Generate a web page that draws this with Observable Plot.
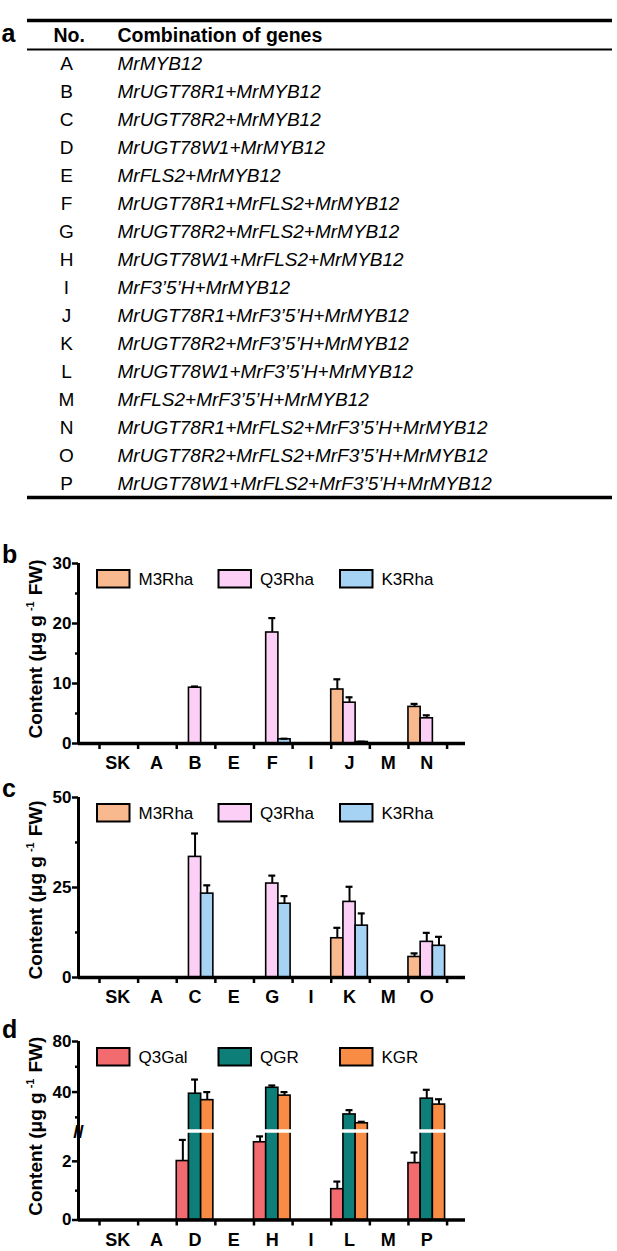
<!DOCTYPE html>
<html><head><meta charset="utf-8">
<script src="https://cdn.jsdelivr.net/npm/d3@7"></script>
<script src="https://cdn.jsdelivr.net/npm/@observablehq/plot@0.6"></script>
<style>
html,body{margin:0;padding:0;background:#fff;}
#root{width:617px;}
#root svg{display:block;}
</style></head><body><div id="root"></div>
<script>
// ---------- data ----------
const nos = ["A","B","C","D","E","F","G","H","I","J","K","L","M","N","O","P"];
const combos = [
  "MrMYB12",
  "MrUGT78R1+MrMYB12",
  "MrUGT78R2+MrMYB12",
  "MrUGT78W1+MrMYB12",
  "MrFLS2+MrMYB12",
  "MrUGT78R1+MrFLS2+MrMYB12",
  "MrUGT78R2+MrFLS2+MrMYB12",
  "MrUGT78W1+MrFLS2+MrMYB12",
  "MrF3\u20195\u2019H+MrMYB12",
  "MrUGT78R1+MrF3\u20195\u2019H+MrMYB12",
  "MrUGT78R2+MrF3\u20195\u2019H+MrMYB12",
  "MrUGT78W1+MrF3\u20195\u2019H+MrMYB12",
  "MrFLS2+MrF3\u20195\u2019H+MrMYB12",
  "MrUGT78R1+MrFLS2+MrF3\u20195\u2019H+MrMYB12",
  "MrUGT78R2+MrFLS2+MrF3\u20195\u2019H+MrMYB12",
  "MrUGT78W1+MrFLS2+MrF3\u20195\u2019H+MrMYB12"
];

const seriesRha = ["M3Rha","Q3Rha","K3Rha"];
const colorsRha = ["#F9B98E","#FCCFF6","#A6D2F4"];
const seriesGal = ["Q3Gal","QGR","KGR"];
const colorsGal = ["#F26B6E","#0E7E78","#F98C45"];

// panel b
const catsB = ["SK","A","B","E","F","I","J","M","N"];
const bM3Rha    = [null,null,null,null,null,null,9.0,null,6.1];
const bM3RhaErr = [0,0,0,0,0,0,1.7,0,0.5];
const bQ3Rha    = [null,null,9.3,null,18.5,null,6.8,null,4.2];
const bQ3RhaErr = [0,0,0.2,0,2.4,0,0.9,0,0.5];
const bK3Rha    = [null,null,null,null,0.7,null,0.25,null,null];
const bK3RhaErr = [0,0,0,0,0.1,0,0.05,0,0];
const ticksB = [0,10,20,30], minorB = [5,15,25];

// panel c
const catsC = ["SK","A","C","E","G","I","K","M","O"];
const cM3Rha    = [null,null,null,null,null,null,10.9,null,5.7];
const cM3RhaErr = [0,0,0,0,0,0,2.9,0,1.0];
const cQ3Rha    = [null,null,33.5,null,26.1,null,21.0,null,9.9];
const cQ3RhaErr = [0,0,6.5,0,2.2,0,4.2,0,2.5];
const cK3Rha    = [null,null,23.3,null,20.5,null,14.4,null,8.8];
const cK3RhaErr = [0,0,2.3,0,2.1,0,3.4,0,2.5];
const ticksC = [0,25,50], minorC = [12.5,37.5];

// panel d (broken axis)
const catsD = ["SK","A","D","E","H","I","L","M","P"];
const dQ3Gal    = [null,null,2.01,null,2.65,null,1.05,null,1.94];
const dQ3GalErr = [0,0,0.72,0,0.2,0,0.26,0,0.36];
const dQGR      = [null,null,38.7,null,43.4,null,22.3,null,34.8];
const dQGRErr   = [0,0,11.2,0,1.8,0,3.4,0,7.0];
const dKGR      = [null,null,33.6,null,37.2,null,15.3,null,30.1];
const dKGRErr   = [0,0,6.4,0,2.8,0,1.2,0,4.2];
const ticksD = [0,2,40,80], minorD = [1,20,60];
const breakD = [0,3,10,80]; // piecewise domain: 0–3 below the break, 10–80 above

// ---------- drawing ----------
const FONT = "'Liberation Sans', Arial, Helvetica, sans-serif";
const root = document.getElementById("root");

// panel a: table
const rowKeys = ["hdr", ...nos];
const tableRows = nos.map((no, i) => ({no, combo: combos[i]}));
const panelA = Plot.plot({
  width: 617, height: 530,
  marginLeft: 27, marginRight: 5, marginTop: 0, marginBottom: 0,
  y: {type: "point", domain: rowKeys, range: [19, 498], axis: null},
  style: {fontFamily: FONT, color: "black", background: "white"},
  marks: [
    Plot.ruleY([rowKeys[0]], {dy: -15, strokeWidth: 3.5}),
    Plot.ruleY([rowKeys[0]], {dy: 14, strokeWidth: 1.8}),
    Plot.ruleY([nos[nos.length - 1]], {dy: 14, strokeWidth: 3.5}),
    Plot.text([{k: "hdr", t: "a"}], {y: "k", text: "t", frameAnchor: "left", dx: -26, dy: -2, textAnchor: "start", lineAnchor: "middle", fontSize: 25, fontWeight: "bold"}),
    Plot.text([{k: "hdr", t: "No."}], {y: "k", text: "t", frameAnchor: "left", dx: 26, textAnchor: "start", lineAnchor: "middle", fontSize: 19.5, fontWeight: "bold"}),
    Plot.text([{k: "hdr", t: "Combination of genes"}], {y: "k", text: "t", frameAnchor: "left", dx: 90, textAnchor: "start", lineAnchor: "middle", fontSize: 19.5, fontWeight: "bold"}),
    Plot.text(tableRows, {y: "no", text: "no", frameAnchor: "left", dx: 39, textAnchor: "middle", lineAnchor: "middle", fontSize: 19}),
    Plot.text(tableRows, {y: "no", text: "combo", frameAnchor: "left", dx: 90, textAnchor: "start", lineAnchor: "middle", fontSize: 19, fontStyle: "italic"})
  ]
});
root.appendChild(panelA);

function makeRows(cats, series, vals, errs) {
  const rows = [];
  cats.forEach((cat, ci) => series.forEach((s, si) => {
    const v = vals[si][ci];
    if (v != null) rows.push({cat, ci, series: s, si, value: v, err: errs[si][ci]});
  }));
  return rows;
}

function barPanel(o) {
  const n = o.cats.length;
  const xDomain = [-0.544, n + 0.477];
  const groupW = 0.948, bw = groupW / o.series.length, capHalf = 0.09;
  const cx = d => d.ci + (d.si + 0.5) * bw;
  const rows = makeRows(o.cats, o.series, o.vals, o.errs);
  const withErr = rows.filter(d => d.err > 0);
  const frameTop = o.marginTop, frameBottom = o.height - o.marginBottom;
  const svg = Plot.plot({
    width: 617, height: o.height,
    marginLeft: 78, marginRight: 152, marginTop: o.marginTop, marginBottom: o.marginBottom,
    x: {type: "linear", domain: xDomain},
    y: o.y,
    color: {domain: o.series, range: o.colors},
    style: {fontFamily: FONT, color: "black", background: "white", overflow: "visible"},
    marks: [
      Plot.rect(rows, {x1: d => d.ci + d.si * bw, x2: d => d.ci + (d.si + 1) * bw, y1: 0, y2: "value", fill: "series", stroke: "black", strokeWidth: 1.6}),
      Plot.ruleX(withErr, {x: cx, y1: "value", y2: d => d.value + d.err, strokeWidth: 2}),
      Plot.ruleY(withErr, {y: d => d.value + d.err, x1: d => cx(d) - capHalf, x2: d => cx(d) + capHalf, strokeWidth: 2.2}),
      ...(o.breakAt != null ? [Plot.ruleY([o.breakAt], {stroke: "white", strokeWidth: 3.5})] : []),
      Plot.ruleX([xDomain[0]], {strokeWidth: 3}),
      Plot.ruleY([0], {strokeWidth: 3.5}),
      Plot.axisY(o.major, {anchor: "left", tickSize: 6, tickPadding: 1, strokeWidth: 2.5, fontSize: 17, fontWeight: "bold", label: null}),
      Plot.axisY(o.minor, {anchor: "left", tickSize: 3, strokeWidth: 2.5, tickFormat: () => "", label: null}),
      Plot.axisX(d3.range(n + 1), {anchor: "bottom", tickSize: 6, strokeWidth: 2.5, tickFormat: () => "", label: null}),
      Plot.text(o.cats, {x: (d, i) => i + groupW / 2, text: d => d, frameAnchor: "bottom", dy: 20, lineAnchor: "middle", fontSize: 18, fontWeight: "bold"}),
      ...(o.breakAt != null ? [Plot.text([o.breakAt], {y: d => d, text: () => "//", frameAnchor: "left", textAnchor: "middle", lineAnchor: "middle", fontSize: 19, fontWeight: "bold", letterSpacing: -3, dy: 1})] : [])
    ]
  });
  const s = d3.select(svg);
  // panel letter
  s.append("text").attr("x", 2).attr("y", o.letterY).attr("text-anchor", "start")
    .attr("font-size", 25).attr("font-weight", "bold").attr("fill", "black").text(o.letter);
  // y title with superscript
  const t = s.append("text")
    .attr("transform", `translate(42,${(frameTop + frameBottom) / 2 + o.titleShift}) rotate(-90)`)
    .attr("text-anchor", "middle").attr("font-size", 19).attr("font-weight", "bold").attr("fill", "black");
  t.append("tspan").text("Content (\u03bcg g");
  t.append("tspan").attr("font-size", 11).attr("dx", 4).attr("dy", -8).text("-1");
  t.append("tspan").attr("dx", 6).attr("dy", 8).text("FW)");
  // legend
  const lg = s.append("g").attr("text-anchor", "start");
  o.series.forEach((name, i) => {
    const x = 97 + i * 121.5;
    lg.append("rect").attr("x", x).attr("y", frameTop + 7).attr("width", 32.5).attr("height", 17.5)
      .attr("fill", o.colors[i]).attr("stroke", "black").attr("stroke-width", 2);
    lg.append("text").attr("x", x + 41.5).attr("y", frameTop + 7 + 8.75 + 6)
      .attr("text-anchor", "start").attr("font-size", 17).attr("fill", "black").text(name);
  });
  return svg;
}

root.appendChild(barPanel({
  cats: catsB, series: seriesRha, colors: colorsRha,
  vals: [bM3Rha, bQ3Rha, bK3Rha], errs: [bM3RhaErr, bQ3RhaErr, bK3RhaErr],
  y: {type: "linear", domain: [0, 30]},
  major: ticksB, minor: minorB,
  height: 253, marginTop: 33, marginBottom: 40,
  letter: "b", letterY: 33, titleShift: -4
}));
root.appendChild(barPanel({
  cats: catsC, series: seriesRha, colors: colorsRha,
  vals: [cM3Rha, cQ3Rha, cK3Rha], errs: [cM3RhaErr, cQ3RhaErr, cK3RhaErr],
  y: {type: "linear", domain: [0, 50]},
  major: ticksC, minor: minorC,
  height: 237, marginTop: 14, marginBottom: 43,
  letter: "c", letterY: 14, titleShift: 3
}));
root.appendChild(barPanel({
  cats: catsD, series: seriesGal, colors: colorsGal,
  vals: [dQ3Gal, dQGR, dKGR], errs: [dQ3GalErr, dQGRErr, dKGRErr],
  y: {type: "linear", domain: breakD, range: [199.5, 111.5, 109.5, 21]},
  major: ticksD, minor: minorD, breakAt: 6.5,
  height: 231, marginTop: 21, marginBottom: 31.5,
  letter: "d", letterY: 17.5, titleShift: -4
}));
</script>
</body></html>
